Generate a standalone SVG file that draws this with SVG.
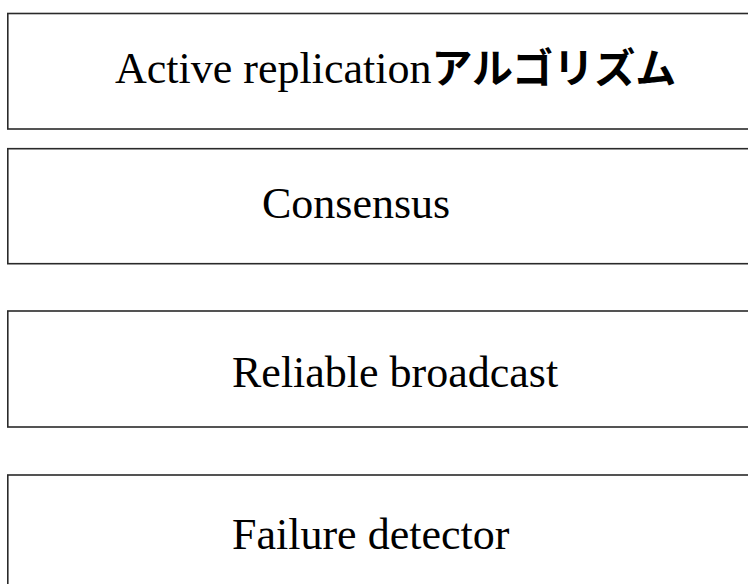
<svg xmlns="http://www.w3.org/2000/svg" width="748" height="584" viewBox="0 0 748 584">
<style>
.box{fill:#fff;stroke:#2a2a2a;stroke-width:1.6}
.t{font-family:"Liberation Serif","Times New Roman",serif;font-size:44px;fill:#000}
.jp{font-family:"Noto Sans CJK JP",sans-serif;font-weight:bold;font-size:41px}
</style>
<rect width="748" height="584" fill="#fff"/>
<g id="n1"><rect class="box" x="7.8" y="13.5" width="760" height="115.5"/><text class="t" x="115" y="83">Active replication<tspan class="jp">アルゴリズム</tspan></text></g>
<g id="n2"><rect class="box" x="7.8" y="148.7" width="760" height="115"/><text class="t" x="262" y="218">Consensus</text></g>
<g id="n3"><rect class="box" x="7.8" y="311" width="760" height="116"/><text class="t" x="232" y="386.5">Reliable broadcast</text></g>
<g id="n4"><rect class="box" x="7.8" y="475" width="760" height="130"/><text class="t" x="232" y="549">Failure detector</text></g>
<g id="connectors"></g>
</svg>
